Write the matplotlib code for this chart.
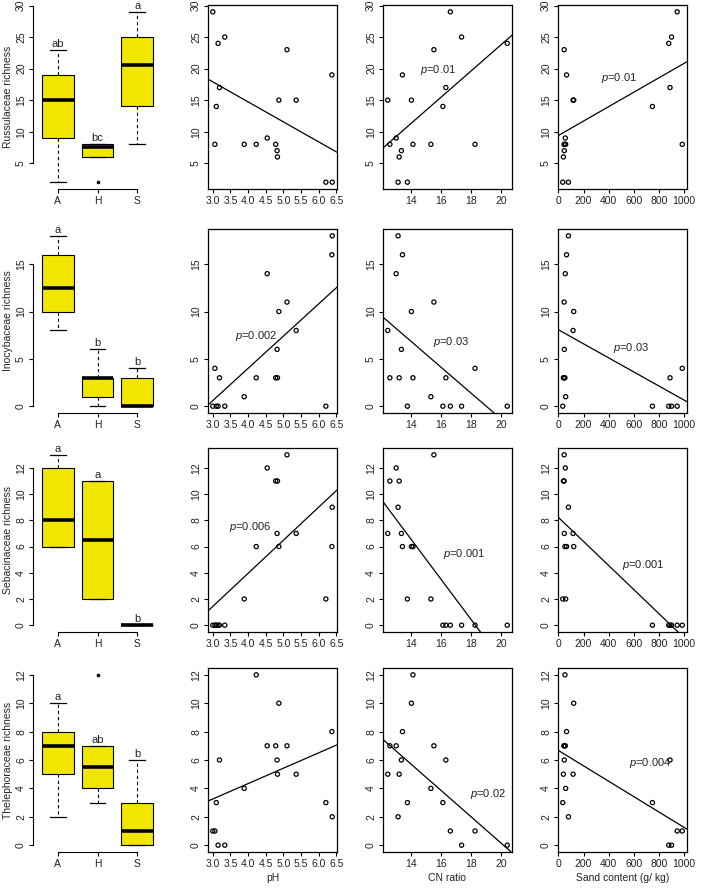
import numpy as np
import matplotlib.pyplot as plt

plt.rcParams['font.family'] = ['Liberation Sans', 'DejaVu Sans']
plt.rcParams['mathtext.fontset'] = 'custom'
plt.rcParams['mathtext.it'] = 'Liberation Sans:italic'
plt.rcParams['mathtext.rm'] = 'Liberation Sans'

# 18 sites, six per habitat (S = sand, H = heath, A = alpine)
habitat = ['S'] * 6 + ['H'] * 6 + ['A'] * 6
ph = [3.00, 3.34, 3.15, 3.19, 3.10, 3.06,
      6.20, 4.83, 4.82, 3.89, 4.23, 4.78,
      4.54, 4.87, 5.36, 5.10, 6.37, 6.38]
cn = [16.6, 17.35, 20.4, 16.3, 16.1, 18.25,
      13.73, 13.18, 13.33, 15.3, 14.1, 12.56,
      12.98, 14.0, 12.42, 15.5, 13.4, 13.11]
sand = [945, 900, 878, 888, 748, 985,
        35, 40, 47, 58, 52, 45,
        55, 122, 117, 46, 65, 80]

russ = [29, 25, 24, 17, 14, 8,
        2, 6, 7, 8, 8, 8,
        9, 15, 15, 23, 19, 2]
inoc = [0, 0, 0, 3, 0, 4,
        0, 3, 6, 1, 3, 3,
        14, 10, 8, 11, 16, 18]
seba = [0, 0, 0, 0, 0, 0,
        2, 11, 7, 2, 6, 11,
        12, 6, 7, 13, 6, 9]
thel = [1, 0, 0, 6, 3, 1,
        3, 5, 6, 4, 12, 7,
        7, 10, 5, 7, 8, 2]

groups = ['A', 'H', 'S']
families = ['Russulaceae', 'Inocybaceae', 'Sebacinaceae', 'Thelephoraceae']
richness = [russ, inoc, seba, thel]
letters = [['ab', 'bc', 'a'], ['a', 'b', 'b'], ['a', 'a', 'b'], ['a', 'ab', 'b']]
yticks = [range(5, 31, 5), range(0, 16, 5), range(0, 13, 2), range(0, 13, 2)]

predictors = [ph, cn, sand]
pred_names = ['pH', 'CN ratio', 'Sand content (g/ kg)']
xticks = [np.arange(3.0, 6.51, 0.5), [14, 16, 18, 20], range(0, 1001, 200)]
xfmt = ['{:.1f}', '{:d}', '{:d}']

# p-values of significant regressions: (row, col) -> text
pvals = {(0, 1): '0.01', (0, 2): '0.01',
         (1, 0): '0.002', (1, 1): '0.03', (1, 2): '0.03',
         (2, 0): '0.006', (2, 1): '0.001', (2, 2): '0.001',
         (3, 1): '0.02', (3, 2): '0.004'}
# where the p text starts, in data units
ppos = {(0, 1): (14.6, 19.7), (0, 2): (337, 18.5),
        (1, 0): (3.62, 7.4), (1, 1): (15.42, 6.8), (1, 2): (435, 6.1),
        (2, 0): (3.45, 7.5), (2, 1): (16.1, 5.4), (2, 2): (510, 4.6),
        (3, 1): (17.9, 3.6), (3, 2): (563, 5.8)}

YELLOW = '#F0E600'
TXT = '#222222'


def rlim(v):
    lo, hi = min(v), max(v)
    d = (hi - lo) * 0.04
    return lo - d, hi + d


def box_stats(vals):
    # R boxplot.stats: Tukey hinges, 1.5 IQR whiskers
    v = np.sort(np.asarray(vals, dtype=float))
    n = len(v)
    n4 = np.floor((n + 3) / 2) / 2
    d = np.array([1, n4, (n + 1) / 2, n + 1 - n4, n]) - 1
    q = 0.5 * (v[np.floor(d).astype(int)] + v[np.ceil(d).astype(int)])
    iqr = q[3] - q[1]
    lo, hi = q[1] - 1.5 * iqr, q[3] + 1.5 * iqr
    inside = v[(v >= lo) & (v <= hi)]
    return dict(med=q[2], q1=q[1], q3=q[3], whislo=inside.min(),
                whishi=inside.max(), fliers=v[(v < lo) | (v > hi)])


def style_ticks(ax):
    ax.tick_params(direction='out', length=3, width=0.8, labelsize=7.5,
                   colors='black', labelcolor=TXT, pad=2)
    ax.tick_params(axis='y', labelrotation=90)
    for lab in ax.get_yticklabels():
        lab.set_va('center')


W, H = 702, 889
fig = plt.figure(figsize=(W / 100, H / 100), dpi=100)
lefts = [33, 208, 383, 558]
tops = [5, 229, 448, 668]
aw, ah = 129, 184

for r in range(4):
    y = np.array(richness[r])
    ylim = rlim(y)

    # box plot by habitat
    ax = fig.add_axes([lefts[0] / W, 1 - (tops[r] + ah) / H, aw / W, ah / H])
    stats = [box_stats([v for v, h in zip(y, habitat) if h == g]) for g in groups]
    ax.bxp(stats, positions=[1, 2, 3], widths=0.8, capwidths=0.4, patch_artist=True,
           boxprops=dict(facecolor=YELLOW, edgecolor='black', linewidth=0.8),
           medianprops=dict(color='black', linewidth=2.6, solid_capstyle='butt'),
           whiskerprops=dict(color='black', linewidth=0.8, linestyle=(0, (3, 2.5))),
           capprops=dict(color='black', linewidth=0.9),
           flierprops=dict(marker='o', markersize=1.6, markerfacecolor='black',
                           markeredgecolor='black'))
    for i, st in enumerate(stats):
        ax.annotate(letters[r][i], (i + 1, st['whishi']), xytext=(0, 2.2),
                    textcoords='offset points', ha='center', va='baseline',
                    fontsize=8, color=TXT, annotation_clip=False)
    ax.set_xlim(0.38, 3.62)
    ax.set_ylim(*ylim)
    ax.set_xticks([1, 2, 3], groups)
    ax.set_yticks(list(yticks[r]))
    ax.spines[['top', 'right']].set_visible(False)
    ax.spines['left'].set_bounds(min(yticks[r]), max(yticks[r]))
    ax.spines['bottom'].set_bounds(1, 3)
    for s in ax.spines.values():
        s.set_linewidth(0.8)
    style_ticks(ax)
    fig.text(8 / W, 1 - (tops[r] + ah / 2) / H, families[r] + ' richness',
             rotation=90, ha='center', va='center', fontsize=7.5, color=TXT)

    # scatter against each soil variable
    for c in range(3):
        x = np.array(predictors[c], dtype=float)
        ax = fig.add_axes([lefts[c + 1] / W, 1 - (tops[r] + ah) / H, aw / W, ah / H])
        ax.scatter(x, y, s=9, facecolors='none', edgecolors='black', linewidths=0.9,
                   zorder=3)
        xlim = rlim(x)
        b, a = np.polyfit(x, y, 1)
        xx = np.array(xlim)
        ax.plot(xx, a + b * xx, color='black', linewidth=0.9)
        if (r, c) in pvals:
            px, py = ppos[(r, c)]
            ax.text(px, py, r'$\it{p}$=' + pvals[(r, c)], fontsize=8, color=TXT,
                    ha='left', va='center')
        ax.set_xlim(*xlim)
        ax.set_ylim(*ylim)
        ax.set_xticks(list(xticks[c]), [xfmt[c].format(t) for t in xticks[c]])
        ax.set_yticks(list(yticks[r]))
        for s in ax.spines.values():
            s.set_linewidth(0.9)
        style_ticks(ax)

for c in range(3):
    fig.text((lefts[c + 1] + aw / 2) / W, 1 - 878 / H, pred_names[c],
             ha='center', va='center', fontsize=7.5, color=TXT)

fig.savefig('out.png', dpi=100)
